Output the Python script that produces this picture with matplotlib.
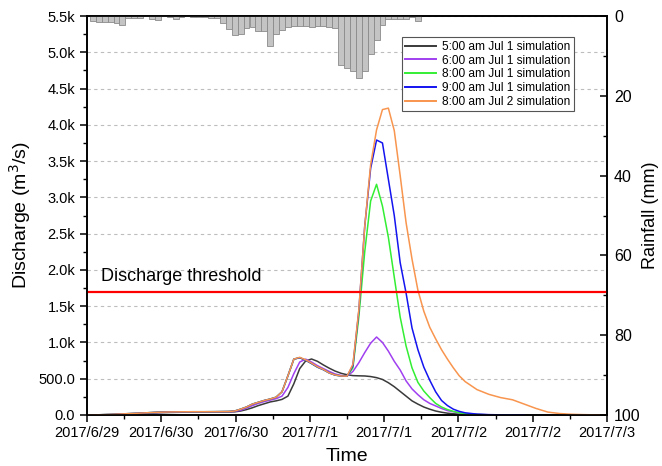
import numpy as np
import matplotlib
matplotlib.use("Agg")
import matplotlib.pyplot as plt
from matplotlib.lines import Line2D

plt.rcParams['font.family'] = ['Liberation Sans', 'DejaVu Sans']

# ---------------- data ----------------
# time in hours from the start of the axis (axis spans 88 h)
x_span = 88
tick_labels = ["2017/6/29", "2017/6/30", "2017/6/30", "2017/7/1",
               "2017/7/1", "2017/7/2", "2017/7/2", "2017/7/3"]

t_common = [0, 2, 4, 6, 8, 10, 12, 14, 16, 18, 20, 22, 24, 25, 26, 27, 28, 29, 30,
            31, 32, 33, 34, 35, 36, 37, 38, 39, 40, 41, 42, 43, 44, 45, 46, 47, 48,
            49, 50, 51, 52, 53, 54, 55, 56, 57, 58, 59, 60, 61, 62, 63, 64, 66, 68,
            70, 72, 74, 76, 78, 80, 82, 84, 86, 88]

q_0500 = [0, 1, 3, 8, 14, 22, 30, 35, 38, 40, 40, 41, 42, 44, 55, 75, 100, 130, 155,
          180, 195, 215, 260, 430, 640, 745, 772, 740, 690, 645, 605, 575, 555, 543, 540, 538, 530,
          515, 490, 445, 390, 325, 260, 195, 150, 110, 80, 55, 38, 25, 17, 11, 7, 3, 1,
          0, None, None, None, None, None, None, None, None, None]
q_0600 = [0, 2, 6, 12, 20, 28, 35, 40, 42, 44, 44, 45, 46, 50, 65, 95, 130, 160, 185,
          205, 225, 260, 380, 570, 730, 770, 730, 680, 640, 600, 565, 545, 535, 600, 720, 860, 990,
          1075, 1000, 880, 740, 620, 470, 360, 280, 210, 160, 125, 90, 60, 45, 30, 20, 8, 3,
          1, 0, None, None, None, None, None, None, None, None]
q_0800 = [0, 3, 8, 15, 22, 30, 38, 42, 44, 45, 45, 46, 48, 55, 80, 110, 150, 175, 200,
          220, 245, 320, 540, 770, 790, 755, 710, 660, 625, 580, 550, 538, 535, 650, 1350, 2250, 2950,
          3180, 2880, 2450, 1900, 1350, 950, 650, 450, 330, 240, 160, 110, 75, 50, 30, 18, 7, 2,
          1, 0, None, None, None, None, None, None, None, None]
q_0900 = [0, 3, 8, 15, 22, 30, 38, 42, 44, 45, 45, 46, 48, 55, 80, 110, 150, 175, 200,
          220, 245, 320, 540, 770, 790, 755, 710, 660, 625, 580, 550, 538, 535, 680, 1430, 2600, 3400,
          3790, 3750, 3250, 2750, 2100, 1680, 1200, 900, 660, 480, 320, 200, 130, 80, 50, 30, 12, 5,
          2, 1, 0, None, None, None, None, None, None, None]
q_jul2 = [0, 3, 8, 15, 22, 30, 38, 42, 44, 45, 45, 46, 48, 55, 80, 110, 150, 175, 200,
          220, 245, 320, 540, 770, 795, 760, 715, 665, 628, 580, 552, 538, 535, 700, 1450, 2600, 3450,
          3930, 4210, 4230, 3920, 3300, 2650, 2150, 1720, 1430, 1210, 1050, 900, 770, 650, 540, 460, 350, 285,
          240, 210, 150, 90, 40, 20, 10, 5, 2, 0]

series_names = ["5:00 am Jul 1 simulation", "6:00 am Jul 1 simulation",
                "8:00 am Jul 1 simulation", "9:00 am Jul 1 simulation",
                "8:00 am Jul 2 simulation"]
series_values = [q_0500, q_0600, q_0800, q_0900, q_jul2]
series_colors = ["#3a3a3a", "#a040f0", "#33ee33", "#1414f0", "#f8954e"]

threshold = 1700

# hourly rainfall (mm), bars centred on hours 1..56
rain_hours = list(range(1, 57))
rain_mm = [1.3, 1.6, 1.4, 1.4, 1.7, 2.2, 0.6, 0.5, 0.4, 0.1,
           0.7, 1.1, 0.1, 0.3, 0.8, 0.2, 0.1, 0.2, 0.2, 0.3,
           0.4, 0.5, 1.8, 3.3, 4.7, 4.5, 3.1, 2.7, 3.7, 3.7,
           7.6, 4.6, 3.6, 2.8, 2.6, 2.6, 2.6, 2.8, 2.6, 2.6,
           2.8, 3.0, 12.4, 13.0, 13.9, 15.5, 13.9, 9.4, 6.1, 2.3,
           0.7, 0.7, 0.8, 0.7, 0.3, 1.3]

# ---------------- figure ----------------
fig = plt.figure(figsize=(6.62, 4.66), dpi=100)
ax = fig.add_axes([87 / 662, (466 - 415) / 466, 520 / 662, 399 / 466])
ax2 = ax.twinx()

for vals, name, col in zip(series_values, series_names, series_colors):
    t = [tt for tt, v in zip(t_common, vals) if v is not None]
    v = [vv for vv in vals if vv is not None]
    ax.plot(t, v, color=col, lw=1.1, label=name, zorder=3)

ax.axhline(threshold, color="#ff0000", lw=1.6, zorder=4)
ax.text(2.3, threshold + 90, "Discharge threshold", fontsize=13, color="black",
        va="bottom", ha="left")

ax.set_xlim(0, x_span)
ax.set_ylim(0, 5500)
yt = np.arange(0, 5501, 500)
ax.set_yticks(yt)
ax.set_yticklabels(["0.0", "500.0"] + [f"{v/1000:.1f}k" for v in yt[2:]])
ax.set_yticks(np.arange(250, 5500, 500), minor=True)
xt = [x_span / 7 * k for k in range(8)]
ax.set_xticks(xt)
ax.set_xticklabels(tick_labels)
ax.set_xticks([x_span / 14 * (2 * k + 1) for k in range(7)], minor=True)
ax.grid(axis="y", which="major", color="#bdbdbd", linestyle=(0, (3, 3)), lw=0.8)
ax.tick_params(axis="both", which="major", direction="out", length=5, width=1.1,
               labelsize=10.5)
ax.tick_params(axis="both", which="minor", direction="out", length=3, width=1.0)
ax.tick_params(axis="x", pad=3)

ax.set_xlabel("Time", fontsize=14, labelpad=6)
ax.set_ylabel("Discharge (m$^3$/s)", fontsize=14, labelpad=4)

ax2.bar(rain_hours, rain_mm, width=1.0, color="#c4c4c4", edgecolor="#8a8a8a",
        linewidth=0.6, zorder=2)
ax2.set_ylim(100, 0)
ax2.set_yticks(np.arange(0, 101, 20))
ax2.set_yticks(np.arange(10, 100, 20), minor=True)
ax2.tick_params(axis="y", which="major", direction="in", length=5, width=1.1,
                labelsize=11.5, pad=5)
ax2.tick_params(axis="y", which="minor", direction="in", length=3, width=1.0)
ax2.set_ylabel("Rainfall (mm)", fontsize=13, rotation=90, labelpad=1)

for a in (ax, ax2):
    for s in a.spines.values():
        s.set_linewidth(1.2)

handles = [Line2D([], [], color=c, lw=1.4) for c in series_colors]
leg = ax2.legend(handles, series_names, loc="upper right",
                 bbox_to_anchor=(0.937, 0.947), fontsize=8.6, frameon=True,
                 fancybox=False, edgecolor="#555555", framealpha=1,
                 handlelength=2.6, handletextpad=0.5, borderpad=0.3,
                 labelspacing=0.15, borderaxespad=0)
leg.get_frame().set_linewidth(0.8)

fig.savefig("out.png", dpi=100)
